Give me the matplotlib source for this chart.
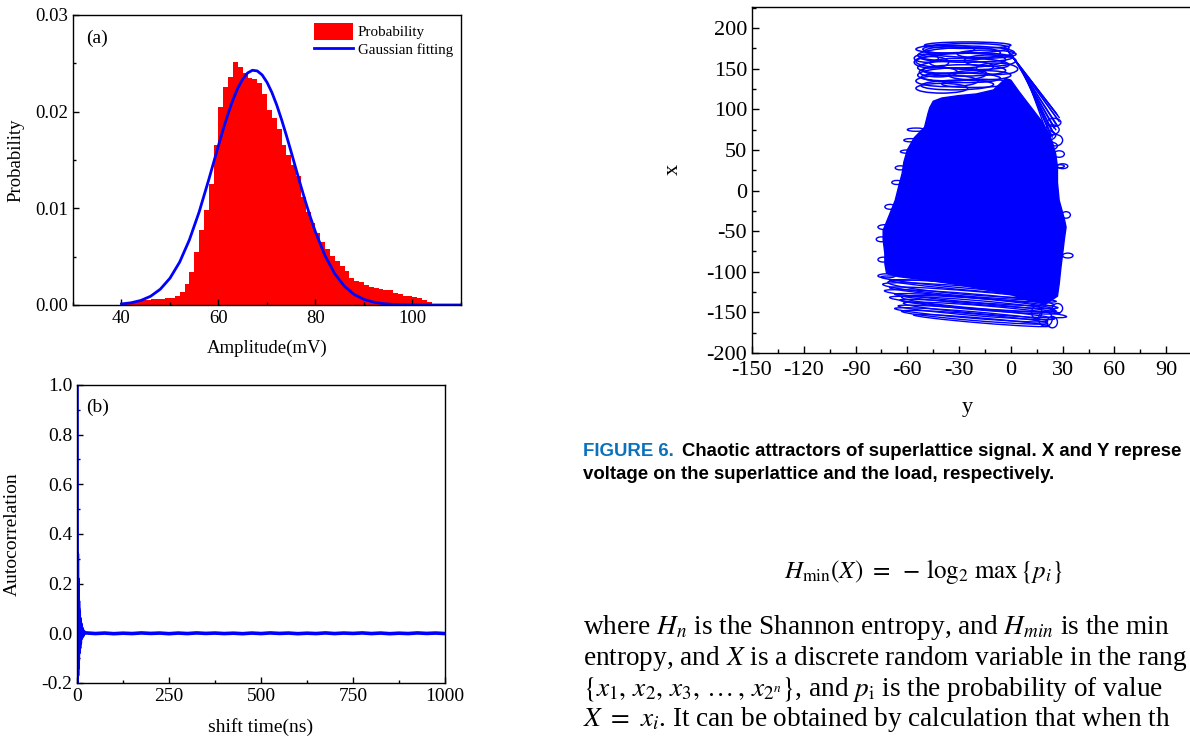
import numpy as np
import matplotlib
matplotlib.use("Agg")
import matplotlib.pyplot as plt
from matplotlib.patches import Ellipse, Patch
from matplotlib.lines import Line2D
from matplotlib.ticker import MultipleLocator, FixedLocator, FormatStrFormatter, FuncFormatter

plt.rcParams['font.family'] = ['Liberation Serif', 'DejaVu Serif']
plt.rcParams['mathtext.fontset'] = 'stix'
plt.rcParams['xtick.direction'] = 'in'
plt.rcParams['ytick.direction'] = 'in'
plt.rcParams['axes.linewidth'] = 1.0

# ---- (a) amplitude histogram, 1 mV bins (left edges) ----
bin_left = list(range(40, 104))
prob = [0.0001, 0.0002, 0.0003, 0.0004, 0.0005, 0.0005, 0.0006, 0.0006, 0.0006, 0.0007,
        0.0007, 0.0009, 0.0013, 0.0022, 0.0034, 0.0055, 0.0078, 0.0098, 0.0125, 0.0165,
        0.0205, 0.0225, 0.0236, 0.0251, 0.0246, 0.0240, 0.0235, 0.0234, 0.0230, 0.0218,
        0.0202, 0.0193, 0.0182, 0.0165, 0.0155, 0.0145, 0.0133, 0.0112, 0.0096, 0.0085,
        0.0074, 0.0065, 0.0058, 0.0051, 0.0045, 0.0040, 0.0035, 0.0028, 0.0025, 0.0024,
        0.0021, 0.0019, 0.0018, 0.0017, 0.0016, 0.0015, 0.0012, 0.0011, 0.0009, 0.0009,
        0.0008, 0.0007, 0.0005, 0.0003]

# gaussian fitting curve
fit_x = [40, 42, 44, 46, 48, 50, 52, 54, 56, 58, 59, 60, 61, 62, 63, 64, 65, 66, 67, 68,
         69, 70, 71, 72, 73, 74, 75, 76, 77, 78, 79, 80, 82, 84, 86, 88, 90, 92, 94, 96,
         98, 100, 102, 110]
fit_y = [0.00011, 0.00023, 0.00047, 0.00090, 0.00163, 0.00277, 0.00444, 0.00673, 0.00960,
         0.01297, 0.01474, 0.01650, 0.01822, 0.01982, 0.02125, 0.02245, 0.02338, 0.02400,
         0.02428, 0.02421, 0.02380, 0.02304, 0.02200, 0.02070, 0.01919, 0.01754, 0.01581,
         0.01403, 0.01228, 0.01059, 0.00900, 0.00754, 0.00507, 0.00321, 0.00192, 0.00108,
         0.00058, 0.00029, 0.00014, 0.00006, 0.00003, 0.00001, 0.0, 0.0]

# ---- (b) autocorrelation ----
early_lag = [0, 0.5, 1.0, 1.5, 2.0, 2.5, 3.0, 3.5, 4, 5, 6, 7, 8, 9, 10, 12, 14, 16, 18, 20]
early_acf = [1.0, -0.2, 0.32, -0.17, 0.22, -0.14, 0.17, -0.11, 0.13, -0.08, 0.09, -0.06,
             0.06, -0.04, 0.04, -0.02, 0.02, -0.01, 0.008, 0.0]
tail_lag = list(range(25, 1001, 25))
tail_acf = [0.0015, -0.001, 0.001, -0.0015, 0.0005, -0.001, 0.0015, -0.0005, 0.001, -0.0015,
            0.001, -0.001, 0.0015, -0.0005, 0.001, -0.001, 0.0005, -0.0015, 0.001, -0.001,
            0.0015, -0.0005, 0.001, -0.0015, 0.0005, -0.001, 0.0015, -0.001, 0.001, -0.0005,
            0.0015, -0.001, 0.001, -0.0015, 0.0005, -0.001, 0.0015, -0.0005, 0.001, -0.001]

# ---- attractor (horizontal = y, vertical = x) ----
core_y = [-47, -45, -40, -30, -20, -10, -3, 0, 4, 9, 13, 18, 22, 24, 26, 27, 27, 28, 31, 32,
          31, 30, 29, 28, 27, 20, 10, 0, -15, -30, -50, -65, -72, -73, -73, -74, -74, -70,
          -67, -65, -63, -62, -60, -56, -50, -48]
core_x = [102, 110, 114, 117, 119, 124, 138, 136, 124, 110, 99, 85, 70, 60, 45, 29, 10, -12,
          -35, -45, -60, -78, -95, -115, -130, -140, -135, -128, -122, -116, -110, -106,
          -102, -90, -78, -60, -49, -28, -12, 5, 21, 35, 50, 65, 78, 95]

# loops of the upper band: centre (y, x), width, height, tilt
top_cy = [-25, -28, -24, -30, -26, -29, -24, -32, -27, -34, -29, -37, -31, -40, -46, -49,
          -14, -12, -20, -8, -18, -42, -36]
top_cx = [179, 175, 171, 168, 164, 160, 156, 152, 148, 143, 139, 135, 130, 126, 158, 163,
          168, 160, 132, 150, 142, 146, 174]
top_w = [50, 54, 52, 48, 54, 52, 46, 44, 48, 40, 46, 36, 42, 30, 20, 14, 34, 30, 40, 24, 36,
         22, 30]
top_h = [8, 12, 14, 16, 12, 18, 14, 16, 14, 16, 12, 14, 12, 12, 14, 10, 10, 14, 10, 14, 12,
         12, 10]
top_a = [0, 2, -2, 4, 0, 3, -3, 2, 0, 3, -2, 0, 2, 0, 0, 0, 0, 0, 2, -3, 0, 0, 0]

# lines of the diagonal band on the upper right
diag_y0 = [-4, -3, -2, -1, 0, 1, 2, 3, 4, 5, 6, 7, 8, 9]
diag_x0 = [178, 176, 173, 170, 168, 165, 162, 159, 156, 153, 150, 147, 144, 141]
diag_y1 = [26, 27, 28, 27, 28, 26, 27, 25, 26, 24, 25, 23, 24, 22]
diag_x1 = [96, 93, 90, 88, 85, 82, 80, 77, 75, 72, 70, 68, 66, 64]

# small loops along the edges
side_cy = [24, 26, 22, 28, 30, -55, -58, -60, -64, -66, -70, -73, -75, -74, -72, 32, 33, 28,
           20, 24, 15, 27, 25, 21]
side_cx = [75, 62, 55, 45, 30, 75, 62, 48, 28, 10, -20, -45, -60, -85, -105, -30, -80, 30,
           -158, -162, -150, -145, 84, 68]
side_w = [8, 8, 10, 6, 6, 10, 8, 8, 6, 6, 6, 8, 6, 6, 10, 5, 6, 6, 8, 6, 6, 6, 8, 10]
side_h = [12, 14, 10, 8, 6, 4, 4, 4, 5, 5, 6, 6, 6, 6, 5, 8, 6, 4, 18, 14, 16, 12, 10, 12]

# loops of the lower band
bot_cy = [-24, -26, -22, -25, -22, -24, -20, -22, -18, -15, -20, -23, -21, -25, -19, -17]
bot_cx = [-110, -115, -119, -124, -128, -132, -136, -140, -143, -147, -150, -153, -156, -121,
          -139, -160]
bot_w = [96, 100, 98, 100, 98, 100, 96, 98, 94, 96, 92, 90, 86, 94, 90, 80]
bot_h = [8, 10, 8, 12, 8, 10, 8, 10, 8, 10, 8, 8, 8, 14, 12, 6]

BLUE = '#0000ff'
RED = '#ff0000'

fig = plt.figure(figsize=(11.9, 7.41), dpi=100)

# (a)
ax1 = fig.add_axes([0.0613, 0.5884, 0.3261, 0.3914])
ax1.bar(bin_left, prob, width=1.0, align='edge', color=RED, linewidth=0)
ax1.plot(fit_x, fit_y, color=BLUE, lw=2.0)
ax1.set_xlim(30, 110)
ax1.set_ylim(0, 0.03)
ax1.xaxis.set_major_locator(FixedLocator([40, 60, 80, 100]))
ax1.xaxis.set_minor_locator(MultipleLocator(10))
ax1.yaxis.set_major_locator(MultipleLocator(0.01))
ax1.yaxis.set_minor_locator(MultipleLocator(0.005))
ax1.yaxis.set_major_formatter(FormatStrFormatter('%.2f'))
ax1.set_xlabel('Amplitude(mV)', fontsize=13.5)
ax1.set_ylabel('Probability', fontsize=13.5)
ax1.xaxis.set_label_coords(0.5, -0.12)
ax1.yaxis.set_label_coords(-0.125, 0.5)
ax1.text(0.034, 0.92, '(a)', transform=ax1.transAxes, fontsize=14, va='center')
handles = [Patch(facecolor=RED, edgecolor='none', label='Probability'),
           Line2D([], [], color=BLUE, lw=2.0, label='Gaussian fitting')]
ax1.legend(handles=handles, loc='upper right', frameon=False, fontsize=10.8,
           handlelength=2.6, handleheight=1.3, borderaxespad=0.15, labelspacing=0.1,
           handletextpad=0.3)

# (b)
ax2 = fig.add_axes([0.0647, 0.0783, 0.3092, 0.4022])
ax2.plot(early_lag + tail_lag, early_acf + tail_acf, color=BLUE, lw=2.6)
ax2.set_xlim(0, 1000)
ax2.set_ylim(-0.2, 1.0)
ax2.xaxis.set_major_locator(MultipleLocator(250))
ax2.xaxis.set_minor_locator(MultipleLocator(125))
ax2.yaxis.set_major_locator(MultipleLocator(0.2))
ax2.yaxis.set_minor_locator(MultipleLocator(0.1))
ax2.yaxis.set_major_formatter(FuncFormatter(lambda v, p: '%.1f' % v))
ax2.set_xlabel('shift time(ns)', fontsize=14)
ax2.set_ylabel('Autocorrelation', fontsize=14)
ax2.xaxis.set_label_coords(0.5, -0.117)
ax2.yaxis.set_label_coords(-0.152, 0.5)
ax2.text(0.025, 0.926, '(b)', transform=ax2.transAxes, fontsize=14, va='center')

for a in (ax1, ax2):
    a.tick_params(labelsize=14 if a is ax2 else 13.5)
    a.tick_params(which='major', length=4.5, width=1)
    a.tick_params(which='minor', length=2.5, width=1)

# attractor
ax3 = fig.add_axes([0.6319, 0.5236, 0.3916, 0.4669])
ax3.fill(core_y, core_x, color=BLUE, lw=1)
for i in range(len(top_cy)):
    ax3.add_patch(Ellipse((top_cy[i], top_cx[i]), top_w[i], top_h[i], angle=top_a[i],
                          fill=False, ec=BLUE, lw=1.1))
for i in range(len(diag_y0)):
    ax3.plot([diag_y0[i], diag_y1[i]], [diag_x0[i], diag_x1[i]], color=BLUE, lw=1.0)
for i in range(len(side_cy)):
    ax3.add_patch(Ellipse((side_cy[i], side_cx[i]), side_w[i], side_h[i],
                          fill=False, ec=BLUE, lw=1.0))
for i in range(len(bot_cy)):
    ax3.add_patch(Ellipse((bot_cy[i], bot_cx[i]), bot_w[i], bot_h[i], angle=-10,
                          fill=False, ec=BLUE, lw=1.0))
ax3.set_xlim(-150, 120)
ax3.set_ylim(-200, 226)
ax3.xaxis.set_major_locator(FixedLocator([-150, -120, -90, -60, -30, 0, 30, 60, 90]))
ax3.xaxis.set_minor_locator(MultipleLocator(15))
ax3.yaxis.set_major_locator(FixedLocator([-200, -150, -100, -50, 0, 50, 100, 150, 200]))
ax3.yaxis.set_minor_locator(MultipleLocator(25))
ax3.xaxis.set_major_formatter(FuncFormatter(lambda v, p: '%d' % v))
ax3.yaxis.set_major_formatter(FuncFormatter(lambda v, p: '%d' % v))
ax3.tick_params(labelsize=16)
ax3.tick_params(axis='x', pad=6)
ax3.tick_params(which='major', length=5, width=1)
ax3.tick_params(which='minor', length=3, width=1)
ax3.set_xlabel('y', fontsize=16)
ax3.set_ylabel('x', fontsize=16)
ax3.xaxis.set_label_coords(0.463, -0.13)
ax3.yaxis.set_label_coords(-0.148, 0.53)

# caption and body text (the page is cropped at the right edge)
cap_font = ['Liberation Sans Narrow', 'Liberation Sans', 'DejaVu Sans']
t1 = fig.text(583 / 1190, 1 - 451 / 741, 'FIGURE 6.', color='#0a72bd', fontsize=13.4,
              fontweight='bold', family=cap_font, va='center')
fig.canvas.draw()
bb = t1.get_window_extent(fig.canvas.get_renderer())
fig.text((bb.x1 + 8) / 1190, 1 - 451 / 741,
         'Chaotic attractors of superlattice signal. X and Y represe',
         fontsize=13.4, fontweight='bold', family=cap_font, va='center')
fig.text(583 / 1190, 1 - 474 / 741,
         'voltage on the superlattice and the load, respectively.',
         fontsize=13.4, fontweight='bold', family=cap_font, va='center')

fig.text(923 / 1190, 1 - 572 / 741, r'$H_{\min}(X)\ =\ -\,\log_2\, \max\,\{p_i\}$',
         fontsize=18, ha='center', va='center')

body = [r'where $H_n$ is the Shannon entropy, and $H_{min}$ is the min',
        r'entropy, and $X$ is a discrete random variable in the rang',
        r'$\{x_1,\, x_2,\, x_3,\, \ldots\,,\, x_{2^n}\}$, and $p_{\mathrm{i}}$ is the probability of value',
        r'$X\ =\ x_i$. It can be obtained by calculation that when th']
for k, line in enumerate(body):
    fig.text(583 / 1190, 1 - (628 + 30.5 * k) / 741, line, fontsize=19.6, va='center')

fig.savefig('out.png', dpi=100)
